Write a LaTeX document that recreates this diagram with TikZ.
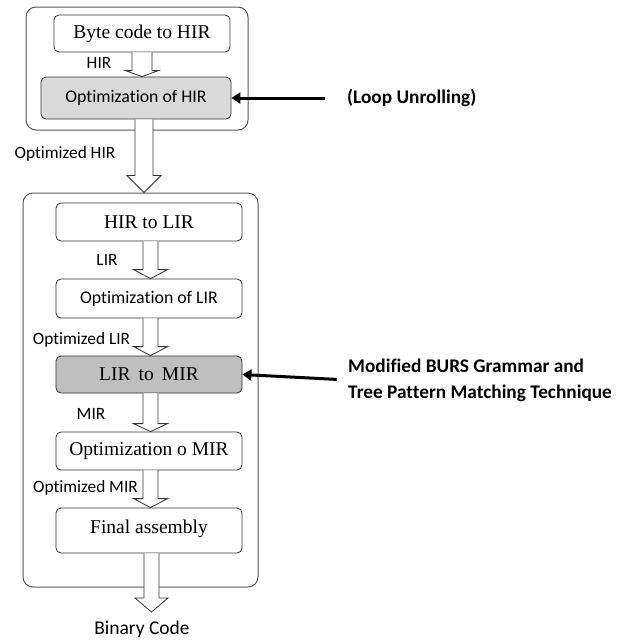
\documentclass[tikz,border=0pt]{standalone}
\usepackage{fontspec}
\setmainfont[Ligatures=NoCommon]{Carlito}
\newfontfamily\boxserif{Liberation Serif}
\usetikzlibrary{arrows.meta, calc}

% block arrow pointing down: from, to, half shaft, half head, head length
\newcommand{\hollowarrow}[5]{%
  \draw[hollow] let \p1=(#1), \p2=(#2) in
    (\x1-#3pt,\y1) -- (\x1-#3pt,\y2+#5pt) -- (\x1-#4pt,\y2+#5pt) -- (\x1,\y2)
    -- (\x1+#4pt,\y2+#5pt) -- (\x1+#3pt,\y2+#5pt) -- (\x1+#3pt,\y1);}

\begin{document}
\begin{tikzpicture}[x=1pt, y=-1pt,
    group/.style={draw=black!65, line width=1pt, rounded corners=10pt},
    stage/.style={draw=black!80, line width=0.8pt, rounded corners=5pt, fill=white,
      minimum width=186pt, minimum height=38pt, inner sep=0pt},
    serifbox/.style={stage, font=\boxserif\fontsize{19.5}{21}\selectfont},
    sansbox/.style={stage, font=\fontsize{17.8}{20}\selectfont},
    flow/.style={font=\fontsize{17.3}{19}\selectfont, inner sep=1pt},
    note/.style={font=\bfseries\fontsize{19.3}{26}\selectfont, align=left, anchor=west, inner sep=0pt},
    hollow/.style={draw=black!80, line width=0.8pt, fill=white, line join=miter},
    pointer/.style={line width=3pt, -{Triangle[length=9pt,width=11pt]}}]
  \useasboundingbox (0,0) rectangle (624,641);

  % the two groups
  \node[group, minimum width=222pt, minimum height=123pt] (front) at (137,68.5) {};
  \node[group, minimum width=235pt, minimum height=394pt] (back) at (140.5,390) {};

  % stages
  \node[serifbox, minimum width=176pt, minimum height=37pt] (byte) at (142,33.5) {Byte code to HIR};
  \node[sansbox, fill=black!15, minimum width=190pt, minimum height=42pt] (optH) at (136,98) {Optimization of HIR};
  \node[serifbox] (hirlir) at (149,222) {HIR to LIR};
  \node[sansbox, minimum height=39pt] (optL) at (149,298.5) {Optimization of LIR};
  \node[serifbox, fill=black!25, minimum height=37pt] (lirmir) at (149,374.5) {LIR\, to\, MIR};
  \node[serifbox] (optM) at (149,451) {Optimization o MIR};
  \node[serifbox, minimum height=45pt, text depth=8pt] (final) at (149,530.5) {Final assembly};

  % data between stages
  \hollowarrow{byte.south}{optH.north}{10}{16.5}{6}
  \hollowarrow{$(optH.south)+(8,0)$}{back.north}{9}{17}{17}
  \hollowarrow{$(hirlir.south)+(1.5,0)$}{optL.north}{7.5}{17}{9}
  \hollowarrow{$(optL.south)+(1.5,0)$}{lirmir.north}{7.5}{17}{9}
  \hollowarrow{$(lirmir.south)+(1.5,0)$}{optM.north}{7.5}{17}{8}
  \hollowarrow{$(optM.south)+(1.5,0)$}{final.north}{7.5}{17}{9}
  \coordinate (bintip) at (151.5,612);
  \hollowarrow{$(final.south)+(2.5,0)$}{bintip}{7.5}{16.5}{14}

  \node[flow] (lblH) at (99,63) {HIR};
  \node[flow] (lblOH) at (65,154) {Optimized HIR};
  \node[flow] (lblL) at (107,260) {LIR};
  \node[flow] (lblOL) at (81.5,340) {Optimized LIR};
  \node[flow] (lblM) at (91,414) {MIR};
  \node[flow] (lblOM) at (85.5,488) {Optimized MIR};
  \node[flow, font=\fontsize{19.5}{21}\selectfont] (binary) at (142,629) {Binary Code};

  % techniques
  \node[note] (loop) at (347,98) {(Loop Unrolling)};
  \node[note] (burs) at (348,380) {Modified BURS Grammar and\\Tree Pattern Matching Technique};
  \draw[pointer, shorten <=22pt] (loop.west) -- (optH.east);
  \draw[pointer, shorten <=11pt] (burs.west) -- (lirmir.east);
\end{tikzpicture}
\end{document}
